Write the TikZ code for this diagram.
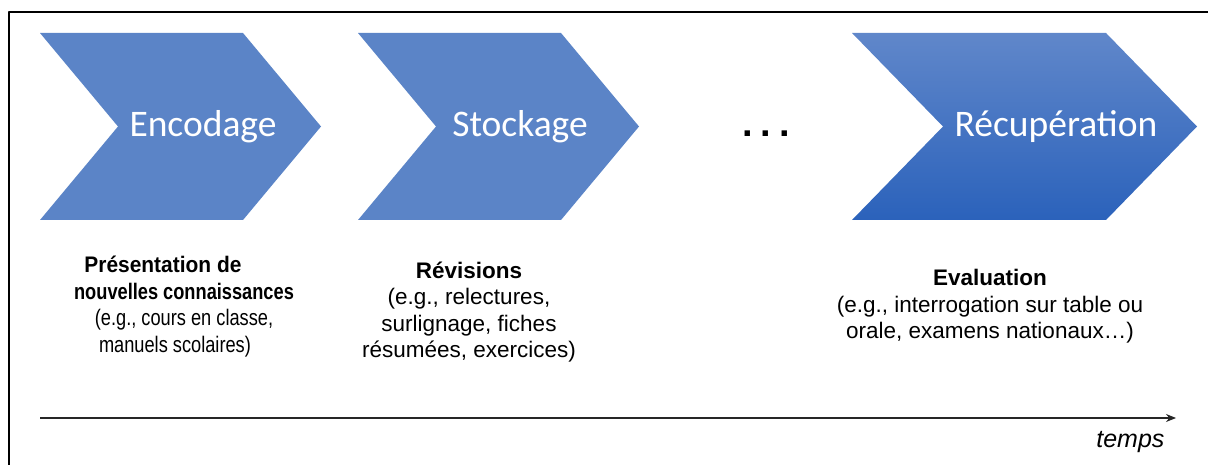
\documentclass[tikz,border=0pt]{standalone}
\usepackage{fontspec}
\setmainfont{Liberation Sans}
\newfontfamily\chevfont{Carlito}
\newfontfamily\narrowfont{Liberation Sans}[FakeStretch=0.81]
\newfontfamily\headfont{Liberation Sans}[FakeStretch=0.93]
\usetikzlibrary{arrows.meta}
\definecolor{chevblue}{RGB}{91,132,199}
\definecolor{chevtop}{RGB}{96,135,202}
\definecolor{chevbot}{RGB}{43,98,187}
\begin{document}
\begin{tikzpicture}[x=1pt, y=-1pt, line join=round, >={Stealth[length=10pt, width=8pt]}, font=\fontsize{22.5}{26.5}\selectfont]
				\useasboundingbox (0,0) rectangle (1208,465);
				\path
				(40,418) coordinate (t0)
				(1176,418) coordinate (t1)
				;
				\draw[line width=2pt] (9,470)--(9,12)--(1212,12);
				\foreach \x in {40,358}
					{\fill[chevblue] (\x,33)--++(203,0)--++(78,93.5)--++(-78,93.5)--++(-203,0)--++(78,-93.5)--cycle;}
				\shade[top color=chevtop, bottom color=chevbot] (852,33)--++(254,0)--++(91,93.5)--++(-91,93.5)--++(-254,0)--++(91,-93.5)--cycle;
				\foreach \n/\x/\t in {enc/203/Encodage, sto/520/Stockage, rec/1056/Récupération}
					{\node[anchor=base, text=white, font=\chevfont\fontsize{37.5}{44}\selectfont] (\n) at (\x,137) {\t};}
				\node[anchor=base, font=\bfseries\fontsize{38}{40}\selectfont] (dots) at (766,137) {.\hspace{8pt}.\hspace{8pt}.};
				\node[anchor=north, align=center, inner sep=0pt, font=\narrowfont\fontsize{22.5}{26.5}\selectfont] (pres) at (184,256) {{\headfont\bfseries Présentation\hspace{6pt}de}\hspace*{42pt}\\\textbf{nouvelles connaissances}\\(e.g., cours en classe,\hspace*{6pt}\\manuels scolaires)\hspace*{18pt}};
				\node[anchor=north, align=center, inner sep=0pt] (rev) at (469,261.5) {\textbf{Révisions}\\(e.g., relectures,\\surlignage, fiches\\résumées, exercices)};
				\node[anchor=north, align=center, inner sep=0pt] (eval) at (990,269) {\textbf{Evaluation}\\(e.g., interrogation sur table ou\\orale, examens nationaux…)};
				\draw[->, line width=1.2pt, black!85] (t0)--(t1);
				\node[anchor=base east, font=\itshape\fontsize{25}{28}\selectfont] (temps) at (1168,447) {temps};
			\end{tikzpicture}
\end{document}
